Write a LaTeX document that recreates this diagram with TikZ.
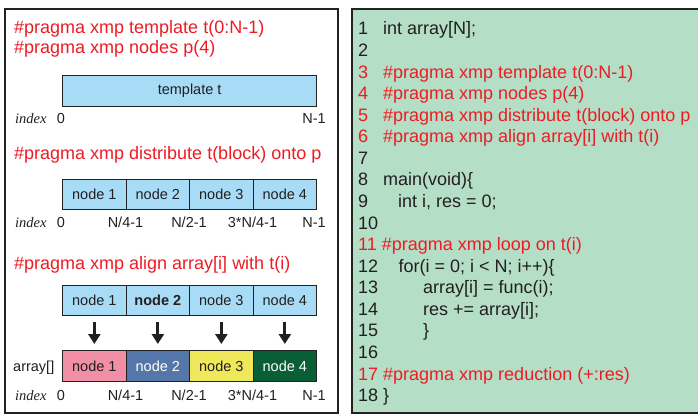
\documentclass[tikz,border=0pt]{standalone}
\usepackage{fontspec}
\setmainfont{Liberation Sans}
\newfontfamily\idxfont{Liberation Serif}
\usetikzlibrary{arrows.meta}
\definecolor{xred}{RGB}{237,28,36}
\definecolor{tblue}{RGB}{168,220,246}
\definecolor{codegreen}{RGB}{180,222,198}
\definecolor{apink}{RGB}{240,143,166}
\definecolor{ablue}{RGB}{84,118,168}
\definecolor{ayellow}{RGB}{238,232,90}
\definecolor{agreen}{RGB}{10,94,54}
\definecolor{frame}{RGB}{34,34,34}
\definecolor{ink}{RGB}{35,31,32}
\begin{document}
\begin{tikzpicture}[x=1pt,y=-1pt,
  big/.style={font=\fontsize{18}{18}\selectfont, anchor=base west, inner sep=0, text=ink},
  pragma/.style={big, text=xred},
  small/.style={font=\fontsize{14.5}{14.5}\selectfont, inner sep=0, text=ink},
  idx/.style={small, anchor=base},
  idxword/.style={font=\idxfont\itshape\fontsize{14.5}{14.5}\selectfont, anchor=base west, inner sep=0, text=ink},
  cell/.style={small, draw=frame, line width=1.2pt, minimum width=63.5pt, minimum height=30pt, anchor=north west, fill=tblue},
  panel/.style={draw=frame, line width=2.3pt},
  down/.style={-{Triangle[width=12pt,length=10pt]}, line width=3pt, draw=ink, shorten <=6pt, shorten >=6pt}
]
\useasboundingbox (0,0) rectangle (698,417);

% ---------- left panel ----------
\draw[panel] (5,9) rectangle (338,413);

\node[pragma] (p1) at (14,33.3) {\#pragma xmp template t(0:N-1)};
\node[pragma] (p2) at (14,53.3) {\#pragma xmp nodes p(4)};

\node[cell, minimum width=254pt, minimum height=31pt] (tmpl) at (62,75) {template t};
\node[idxword] (iw1) at (15,124) {index};
\node[idx] (i10) at (61,124) {0};
\node[idx] (i1n) at (314,124) {N-1};

\node[pragma] (p3) at (14,159) {\#pragma xmp distribute t(block) onto p};

\node[cell] (d1) at (62,179) {node 1};
\node[cell] (d2) at (125.5,179) {node 2};
\node[cell] (d3) at (189,179) {node 3};
\node[cell] (d4) at (252.5,179) {node 4};
\node[idxword] (iw2) at (15,227.3) {index};
\node[idx] (i20) at (61,227.3) {0};
\node[idx] (i21) at (125.5,227.3) {N/4-1};
\node[idx] (i22) at (189,227.3) {N/2-1};
\node[idx] (i23) at (252.5,227.3) {3*N/4-1};
\node[idx] (i2n) at (314,227.3) {N-1};

\node[pragma] (p4) at (14,269.3) {\#pragma xmp align array[i] with t(i)};

\node[cell] (b1) at (62,285) {node 1};
\node[cell] (b2) at (125.5,285) {\bfseries node 2};
\node[cell] (b3) at (189,285) {node 3};
\node[cell] (b4) at (252.5,285) {node 4};

\node[cell, minimum height=31pt, fill=apink] (a1) at (62,350) {node 1};
\node[cell, minimum height=31pt, fill=ablue, text=white] (a2) at (125.5,350) {node 2};
\node[cell, minimum height=31pt, fill=ayellow] (a3) at (189,350) {node 3};
\node[cell, minimum height=31pt, fill=agreen, text=white] (a4) at (252.5,350) {node 4};
\node[small, anchor=base west] (arr) at (13,371) {array[]};

\foreach \k in {1,2,3,4}
  \draw[down] (b\k.south) -- (a\k.north);

\node[idxword] (iw3) at (15,400.7) {index};
\node[idx] (i30) at (61,400.7) {0};
\node[idx] (i31) at (125.5,400.7) {N/4-1};
\node[idx] (i32) at (189,400.7) {N/2-1};
\node[idx] (i33) at (252.5,400.7) {3*N/4-1};
\node[idx] (i3n) at (314,400.7) {N-1};

% ---------- right panel: source listing ----------
\fill[codegreen] (352,9) rectangle (698,413);
\draw[panel] (702,9) -- (352,9) -- (352,413) -- (702,413);

\foreach \n/\x/\txt/\col in {
   1/383/{int array[N];}/ink,
   2/383/{}/ink,
   3/383/{\#pragma xmp template t(0:N-1)}/xred,
   4/383/{\#pragma xmp nodes p(4)}/xred,
   5/383/{\#pragma xmp distribute t(block) onto p}/xred,
   6/383/{\#pragma xmp align array[i] with t(i)}/xred,
   7/383/{}/ink,
   8/383/{main(void)\{}/ink,
   9/398/{int i, res = 0;}/ink,
  12/398.5/{for(i = 0; i < N; i++)\{}/ink,
  13/423/{array[i] = func(i);}/ink,
  14/423/{res += array[i];}/ink,
  15/423/{\}}/ink}
{
  \node[big, text=\col] (n\n) at (358,{35+21.57*(\n-1)}) {\n};
  \node[big, text=\col] (c\n) at (\x,{35+21.57*(\n-1)}) {\txt};
}
\node[big] (n10) at (358,{35+21.57*9}) {10};
\node[big, text=xred] (n11) at (358,{35+21.57*10}) {11 \#pragma xmp loop on t(i)};
\node[big] (n16) at (358,{35+21.57*15}) {16};
\node[big, text=xred] (n17) at (358,{35+21.57*16}) {17 \#pragma xmp reduction (+:res)};
\node[big] (n18) at (358,{35+21.57*17}) {18 \}};
\end{tikzpicture}
\end{document}
